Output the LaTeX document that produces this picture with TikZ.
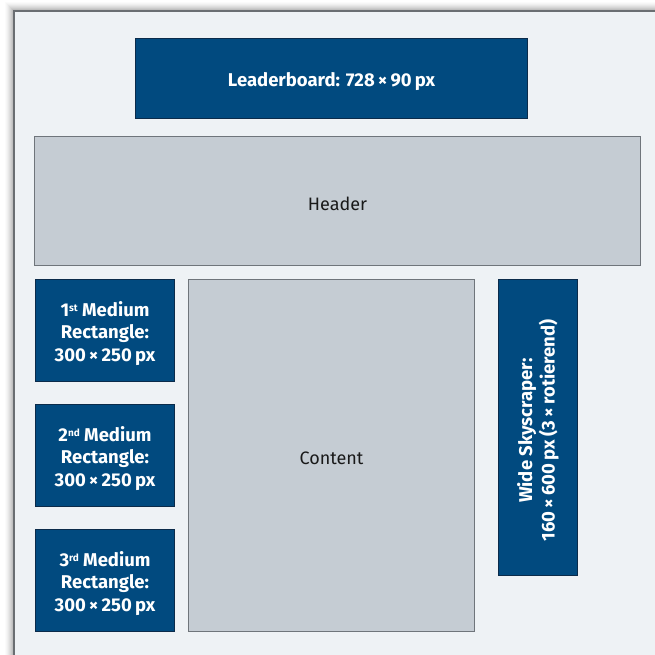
\documentclass[tikz,border=0pt]{standalone}
\usepackage{fontspec}
\setmainfont{Fira Sans}
\usetikzlibrary{positioning}
\definecolor{adblue}{HTML}{014A7F}
\definecolor{adedge}{HTML}{0B2B4A}
\definecolor{boxgray}{HTML}{C5CCD3}
\definecolor{grayedge}{HTML}{6F757B}
\definecolor{pagebg}{HTML}{EEF2F5}
\definecolor{frameline}{HTML}{6A6E72}
\tikzset{
  adbox/.style={draw=adedge, line width=1pt, fill=adblue, inner sep=0pt, anchor=north west},
  areabox/.style={draw=grayedge, line width=1pt, fill=boxgray, inner sep=0pt, anchor=north west},
  adtext/.style={text=white, font=\fontsize{18.5}{22.5}\selectfont\bfseries, align=center, inner sep=0pt, yshift=-3pt},
  areatext/.style={text=black!90, font=\fontsize{18}{22}\selectfont, align=center, inner sep=0pt, yshift=-3pt},
}
\newcommand{\tms}{\,×\,}
\newcommand{\sups}[1]{\raisebox{0.55ex}{\fontsize{10}{10}\selectfont #1}}
\begin{document}
\begin{tikzpicture}[x=1pt,y=-1pt]
\useasboundingbox (0,0) rectangle (655,655);
\fill[white] (0,0) rectangle (655,655);
% soft shadow of the page frame
\foreach \d/\o in {9/0.015,8/0.02,7/0.025,6/0.03,5/0.035,4/0.04,3/0.05,2/0.06,1/0.08}{
  \fill[black,opacity=\o] (14-\d,11-\d) rectangle (660,660);
}
\fill[pagebg] (14,11) rectangle (660,660);
\draw[frameline, line width=1.2pt] (14,660) -- (14,11) -- (660,11);
% boxes
\node[adbox, minimum width=392pt, minimum height=80pt] (lb) at (135,38) {};
\node[adtext] (lbt) at (lb.center) {Leaderboard: 728\tms 90\,px};
\node[areabox, minimum width=606pt, minimum height=129pt] (hd) at (34,136) {};
\node[areatext] (hdt) at (hd.center) {Header};
\node[adbox, minimum width=139pt, minimum height=102pt] (mr1) at (35,279) {};
\node[adtext] (mr1t) at (mr1.center) {1\sups{st} Medium\\Rectangle:\\300\tms 250\,px};
\node[adbox, minimum width=139pt, minimum height=102pt] (mr2) at (35,404) {};
\node[adtext] (mr2t) at (mr2.center) {2\sups{nd} Medium\\Rectangle:\\300\tms 250\,px};
\node[adbox, minimum width=139pt, minimum height=102pt] (mr3) at (35,529) {};
\node[adtext] (mr3t) at (mr3.center) {3\sups{rd} Medium\\Rectangle:\\300\tms 250\,px};
\node[areabox, minimum width=286pt, minimum height=352pt] (ct) at (188,279) {};
\node[areatext] (ctt) at (ct.center) {Content};
\node[adbox, minimum width=79pt, minimum height=296pt] (sk) at (498,279) {};
\node[adtext, rotate=90, yshift=0pt] (skt) at (sk.center) {Wide Skyscraper:\\160\tms 600\,px (3\tms rotierend)};
\end{tikzpicture}
\end{document}
